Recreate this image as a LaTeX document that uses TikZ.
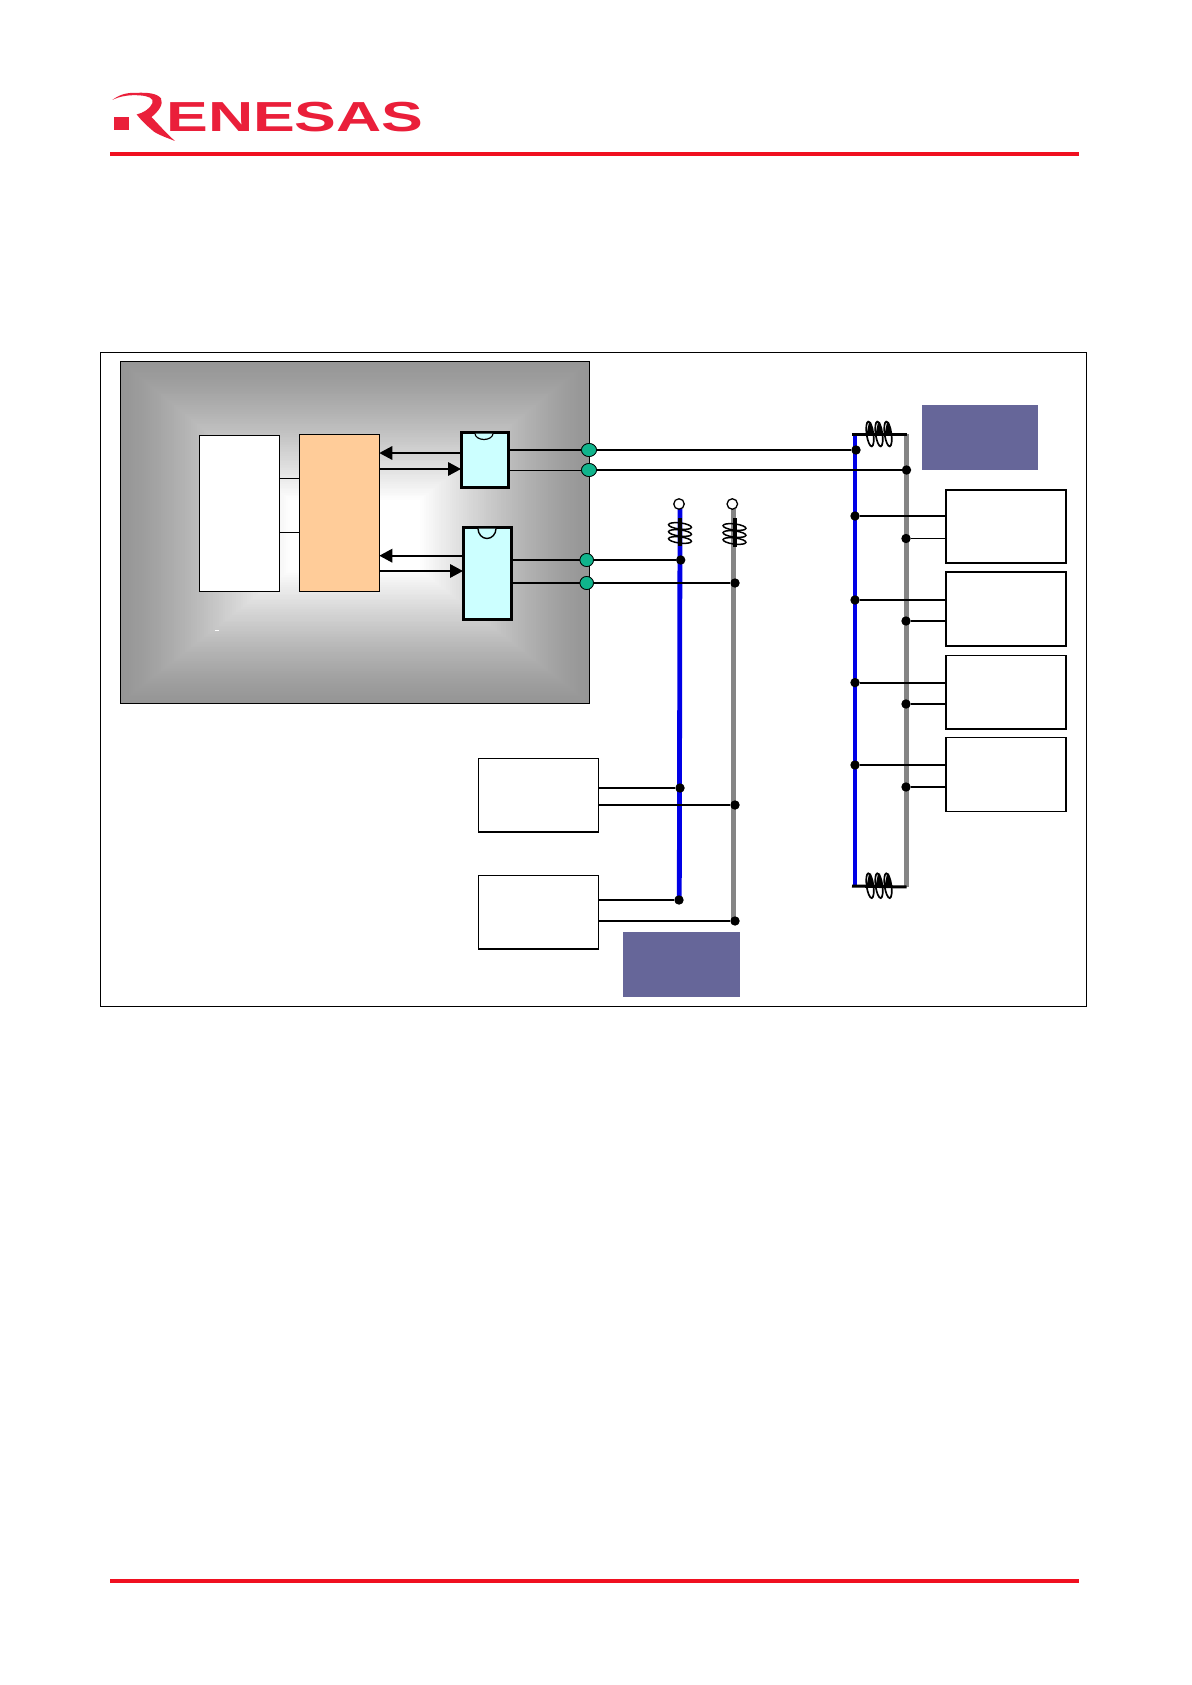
\documentclass[tikz,border=0pt]{standalone}
\usepackage{fontspec}
\newfontfamily\logofont{Liberation Sans}[Scale=1]
\definecolor{rlogo}{HTML}{EA1F3A}
\definecolor{rline}{HTML}{F01020}
\definecolor{bgray}{HTML}{969696}
\definecolor{busblue}{HTML}{0000E6}
\definecolor{busgray}{HTML}{858585}
\definecolor{chipc}{HTML}{CCFFFF}
\definecolor{ctrl}{HTML}{FFCC99}
\definecolor{pad}{HTML}{10B48C}
\definecolor{slate}{HTML}{666699}
\usetikzlibrary{arrows.meta,shapes.geometric}
\tikzset{
  box/.style={draw=black,fill=white,line width=1.1pt,rectangle,inner sep=0pt,outer sep=0pt},
  ctrlbox/.style={box,fill=ctrl},
  chip/.style={box,fill=chipc,line width=3pt},
  slatebox/.style={rectangle,fill=slate,inner sep=0pt,outer sep=0pt},
  jdot/.style={circle,fill=black,inner sep=0pt,outer sep=0pt,minimum size=9.4pt},
  opendot/.style={circle,draw=black,fill=white,line width=1.3pt,inner sep=0pt,outer sep=0pt,minimum size=10.5pt},
  paddot/.style={ellipse,draw=black,fill=pad,line width=0.7pt,inner sep=0pt,outer sep=0pt,minimum width=15pt,minimum height=13pt},
  paddotb/.style={paddot,minimum width=13.5pt,minimum height=13pt},
  wire/.style={draw=black,line width=1.8pt},
  thinwire/.style={draw=black,line width=1pt},
  sigarrow/.style={draw=black,line width=1.8pt,-{Triangle[length=13pt,width=13.5pt]}},
  bluebus/.style={draw=busblue,line width=4.8pt},
  graybus/.style={draw=busgray,line width=5pt},
  hcoil/.style={draw=black,line width=1.7pt},
  vcoil/.style={draw=black,line width=1.5pt},
  corewire/.style={draw=black,line width=3pt},
  vcore/.style={draw=black,line width=3.4pt},
}
\begin{document}
\begin{tikzpicture}[x=1pt,y=-1pt]
\useasboundingbox (0,0) rectangle (1191,1685);
\fill[white] (0,0) rectangle (1191,1685);
% logo
\fill[rlogo] (114,117.3) rectangle (129,130);
\fill[rlogo] (112.3,100) .. controls (120,94) and (128,92.5) .. (137,92.8)
  .. controls (147,92.5) and (157,93) .. (161,98.5)
  .. controls (164,104) and (158,112) .. (151.5,117)
  .. controls (159,125) and (167,134) .. (175,141)
  .. controls (165,137) and (156,134) .. (152,130)
  .. controls (146,125) and (141,120) .. (136.7,114.5)
  .. controls (143,113) and (150,109) .. (152.5,103)
  .. controls (154,98) and (148,96) .. (140,95.4)
  .. controls (130,94.6) and (120,96) .. (112.3,100) -- cycle;
\node[text=rlogo,inner sep=0pt,anchor=west,xscale=1.49,font=\logofont\bfseries\fontsize{42}{42}\selectfont] (logotext) at (166,117) {ENESAS};
% rules
\coordinate (topL) at (110,154);
\coordinate (topR) at (1079,154);
\coordinate (botL) at (110,1581);
\coordinate (botR) at (1079,1581);
\draw[draw=rline,line width=4pt] (topL) -- (topR);
\draw[draw=rline,line width=4.5pt] (botL) -- (botR);
% frame
\draw[black,line width=0.9pt] (100,352.5) rectangle (1086.7,1006);
% gradient panel
\foreach \i in {0,...,79}{
  \pgfmathsetmacro{\t}{\i/79}
  \pgfmathsetmacro{\pc}{100*\t^1.3}
  \pgfmathsetmacro{\xa}{120+(290-120)*\t}
  \pgfmathsetmacro{\xb}{589+(420-589)*\t}
  \pgfmathsetmacro{\ya}{361+(500-361)*\t}
  \pgfmathsetmacro{\yb}{703+(570-703)*\t}
  \fill[white!\pc!bgray] (\xa,\ya) rectangle (\xb,\yb);
}
\draw[black,line width=0.9pt] (120,361) rectangle (589,703);
\draw[white,line width=0.8pt] (215,630) -- (219,630);
% boxes in panel
\node[box,minimum width=80pt,minimum height=156.4pt] (mem) at (239.3,513.5) {};
\node[ctrlbox,minimum width=80pt,minimum height=157.7pt] (ctl) at (339.3,512.9) {};
\node[chip,minimum width=47pt,minimum height=55pt] (chipA) at (484.5,459.5) {};
\node[chip,minimum width=48pt,minimum height=92pt] (chipB) at (487,573) {};
% notches
\draw[black,fill=chipc,line width=1.2pt] (475,433.5) arc[start angle=180,end angle=0,x radius=9,y radius=6];
\draw[black,fill=chipc,line width=1.4pt] (478,528.5) arc[start angle=180,end angle=0,x radius=9,y radius=10];
% mem to ctrl
\coordinate (m1) at (279.3,478.5);
\coordinate (m2) at (279.3,532.5);
\draw[thinwire] (m1) -- (m1 -| ctl.west);
\draw[thinwire] (m2) -- (m2 -| ctl.west);
% ctrl-chip arrows
\coordinate (a1) at (461,453);
\coordinate (a2) at (380,469);
\coordinate (a3) at (463,555.7);
\coordinate (a4) at (380,571);
\draw[sigarrow] (a1) -- (a1 -| ctl.east);
\draw[sigarrow] (a2) -- (a2 -| chipA.west);
\draw[sigarrow] (a3) -- (a3 -| ctl.east);
\draw[sigarrow] (a4) -- (a4 -| chipB.west);
% buses
\coordinate (blueTop) at (855,434);
\coordinate (blueBot) at (855,886);
\coordinate (grayTop) at (906.5,434);
\coordinate (grayBot) at (906.5,887);
\draw[graybus] (grayTop) -- (grayBot);
\draw[bluebus] (blueTop) -- (blueBot);
\draw[corewire] (852,434) -- (grayTop);
\draw[corewire] (852,886) -- (grayBot);
% horizontal coils
\foreach \x in {870,879,888}{
  \draw[hcoil,rotate around={8:(\x,434)}] (\x,434) ellipse[x radius=3.4,y radius=12.5];
  \draw[hcoil,rotate around={8:(\x,885.7)}] (\x,885.7) ellipse[x radius=3.4,y radius=12.5];
  \fill[black] (\x-3.4,434) -- (\x-1,422) -- (\x+1,422) -- (\x+3.4,434) -- cycle;
  \fill[black] (\x-3.4,885.7) -- (\x-1,873.7) -- (\x+1,873.7) -- (\x+3.4,885.7) -- cycle;
}
% left buses
\coordinate (bTop) at (680,509);
\coordinate (bBot) at (679.3,899.7);
\coordinate (gTop) at (733.8,509);
\coordinate (gBot) at (733.8,921);
\draw[bluebus] (bTop) -- (bBot);
\draw[graybus] (gTop) -- (gBot);
\node[opendot] (openA) at (679,504) {};
\node[opendot] (openB) at (732.3,504) {};
\node[jdot] (bA0) at (680.7,560) {};
\node[jdot] (gA0) at (735,583) {};
\node[jdot] (bA1) at (680,788) {};
\node[jdot] (gA1) at (735,805) {};
\node[jdot] (bA2) at (679,900) {};
\node[jdot] (gA2) at (735,921) {};
% vertical coils
\foreach \cx/\y in {680/526,680/533,680/540,734.5/527,734.5/534,734.5/541}{
  \draw[vcoil,rotate around={-7:(\cx,\y)}] (\cx,\y) ellipse[x radius=11.5,y radius=3.1];
}
\draw[vcore] (680,518) -- (680,546);
\draw[vcore] (735,518) -- (735,547);
% pads and main wires
\node[paddot] (padA) at (589,450) {};
\node[paddot] (padB) at (589,470) {};
\node[paddotb] (padC) at (586.7,560) {};
\node[paddotb] (padD) at (586.7,583) {};
\node[jdot] (jb0) at (856,450) {};
\node[jdot] (jg0) at (906.5,470) {};
\draw[wire] (padA -| chipA.east) -- (padA);
\draw[thinwire] (padB -| chipA.east) -- (padB);
\draw[wire] (padC -| chipB.east) -- (padC);
\draw[wire] (padD -| chipB.east) -- (padD);
\draw[wire] (padA) -- (jb0);
\draw[wire] (padB) -- (jg0);
\draw[wire] (padC) -- (bA0);
\draw[wire] (padD) -- (gA0);
\node[paddot] at (padA) {};
\node[paddot] at (padB) {};
\node[paddotb] at (padC) {};
\node[paddotb] at (padD) {};
% lower devices
\node[box,minimum width=120pt,minimum height=73.7pt] (devA) at (538.3,795.2) {};
\node[box,minimum width=120pt,minimum height=73.3pt] (devB) at (538.3,912.3) {};
\draw[black,line width=2pt] (devA.south west) -- (devA.south east);
\draw[black,line width=2pt] (devB.south west) -- (devB.south east);
\draw[wire] (bA1 -| devA.east) -- (bA1);
\draw[wire] (gA1 -| devA.east) -- (gA1);
\draw[wire] (bA2 -| devB.east) -- (bA2);
\draw[wire] (gA2 -| devB.east) -- (gA2);
\node[slatebox,minimum width=117pt,minimum height=64.7pt] (tagA) at (681.5,964.3) {};
\node[slatebox,minimum width=116.5pt,minimum height=65pt] (tagB) at (980.2,437.5) {};
% right devices
\node[box,minimum width=120pt,minimum height=73pt] (devC) at (1006,526.5) {};
\node[box,minimum width=120pt,minimum height=74pt] (devD) at (1006,609) {};
\node[box,minimum width=120pt,minimum height=73.3pt] (devE) at (1006,692.3) {};
\node[box,minimum width=120pt,minimum height=74.5pt] (devF) at (1006,774.3) {};
\foreach \yb/\yg/\dev/\n in {516/538.5/devC/1,600/621/devD/2,682.6/704/devE/3,765/787/devF/4}{
  \node[jdot] (jb\n) at (855,\yb) {};
  \node[jdot] (jg\n) at (906,\yg) {};
  \draw[wire] (jb\n) -- (jb\n -| \dev.west);
  \draw[wire] (jg\n) -- (jg\n -| \dev.west);
}
\end{tikzpicture}
\end{document}
